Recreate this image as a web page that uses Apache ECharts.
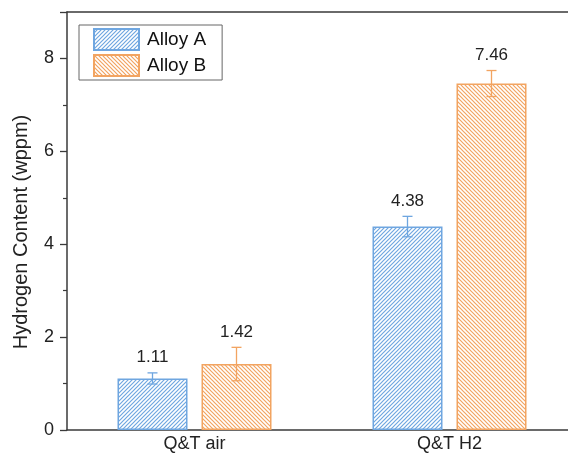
<!DOCTYPE html>
<html>
<head>
<meta charset="utf-8">
<script src="https://cdn.jsdelivr.net/npm/echarts@6/dist/echarts.min.js"></script>
<style>
  html, body { margin: 0; padding: 0; background: #fff; overflow: hidden; }
  #frame { width: 568px; height: 456px; overflow: hidden; position: relative; }
  #chart { width: 580px; height: 456px; position: absolute; left: 0; top: 0; }
</style>
</head>
<body>
<div id="frame"><div id="chart"></div></div>
<script>
// Treatment conditions on the x axis
const categories = ['Q&T air', 'Q&T H2'];
// Mean hydrogen content (wppm) and standard deviation for each alloy
const alloyA = [1.11, 4.38];
const alloyAErr = [0.12, 0.22];
const alloyB = [1.42, 7.46];
const alloyBErr = [0.36, 0.28];
const seriesNames = ['Alloy A', 'Alloy B'];

const FONT = 'Liberation Sans, Arial, Helvetica, sans-serif';
const BLUE = '#6fa6e0';
const ORANGE = '#f2a461';
const AXIS = '#3a3a3a';

// Diagonal hatch fill as a repeating canvas tile
function hatch(color, forward) {
  const s = 4;
  const c = document.createElement('canvas');
  c.width = s; c.height = s;
  const g = c.getContext('2d');
  g.fillStyle = '#ffffff';
  g.fillRect(0, 0, s, s);
  g.strokeStyle = color;
  g.lineWidth = 1.2;
  g.beginPath();
  if (forward) {
    g.moveTo(-1, s + 1); g.lineTo(s + 1, -1);
    g.moveTo(-1, 1); g.lineTo(1, -1);
    g.moveTo(s - 1, s + 1); g.lineTo(s + 1, s - 1);
  } else {
    g.moveTo(-1, -1); g.lineTo(s + 1, s + 1);
    g.moveTo(s - 1, -1); g.lineTo(s + 1, 1);
    g.moveTo(-1, s - 1); g.lineTo(1, s + 1);
  }
  g.stroke();
  return { image: c, repeat: 'repeat' };
}

const BAR_W = 70;
const BAR_GAP = 14;
const OFFSET = (BAR_W + BAR_GAP) / 2;

function errorSeries(values, errs, color, side) {
  return {
    type: 'custom',
    z: 5,
    data: values.map((v, i) => [i, v, errs[i]]),
    renderItem: function (params, api) {
      const i = api.value(0), v = api.value(1), e = api.value(2);
      const top = api.coord([i, v + e]);
      const bot = api.coord([i, v - e]);
      const x = top[0] + side * OFFSET;
      const cap = 5;
      return {
        type: 'group',
        children: [
          { type: 'line', shape: { x1: x, y1: top[1], x2: x, y2: bot[1] }, style: { stroke: color, lineWidth: 1.3 } },
          { type: 'line', shape: { x1: x - cap, y1: top[1], x2: x + cap, y2: top[1] }, style: { stroke: color, lineWidth: 1.3 } },
          { type: 'line', shape: { x1: x - cap, y1: bot[1], x2: x + cap, y2: bot[1] }, style: { stroke: color, lineWidth: 1.3 } },
          { type: 'text', x: x, y: top[1] - 7,
            style: { text: v.toFixed(2), fill: '#222', font: '17px ' + FONT, textAlign: 'center', textVerticalAlign: 'bottom' } }
        ]
      };
    }
  };
}

const chart = echarts.init(document.getElementById('chart'), null, { renderer: 'canvas' });
chart.setOption({
  backgroundColor: '#fff',
  animation: false,
  grid: { left: 67, right: 3, top: 12, bottom: 26 },
  legend: {
    data: seriesNames,
    orient: 'vertical',
    left: 79, top: 25,
    padding: [3, 16, 3, 14],
    icon: 'rect',
    itemWidth: 45, itemHeight: 21, itemGap: 3,
    borderColor: '#666', borderWidth: 1,
    textStyle: { fontSize: 19, fontFamily: FONT, color: '#111', padding: [0, 0, 0, 3] }
  },
  xAxis: [
    {
      type: 'category',
      data: categories,
      axisLine: { lineStyle: { color: AXIS, width: 1.5 } },
      axisTick: { show: false },
      axisLabel: { fontSize: 18, fontFamily: FONT, color: '#222', margin: 5 }
    },
    {
      // top frame line
      type: 'category',
      position: 'top',
      data: categories,
      axisLine: { lineStyle: { color: AXIS, width: 1.5 } },
      axisTick: { show: false },
      axisLabel: { show: false }
    }
  ],
  yAxis: {
    type: 'value',
    min: 0, max: 9, interval: 2,
    name: 'Hydrogen Content (wppm)',
    nameLocation: 'middle',
    nameGap: 36,
    nameTextStyle: { fontSize: 20, fontFamily: FONT, color: '#222', padding: [0, 22, 0, 0] },
    axisLine: { show: true, lineStyle: { color: AXIS, width: 1.5 } },
    axisTick: { show: true, inside: false, length: 7, lineStyle: { color: AXIS, width: 1.3 } },
    minorTick: { show: true, splitNumber: 2, length: 4, lineStyle: { color: AXIS, width: 1.2 } },
    splitLine: { show: false },
    axisLabel: {
      fontSize: 18, fontFamily: FONT, color: '#222', margin: 13,
      formatter: v => (v % 2 === 0 && v <= 8 ? String(v) : '')
    }
  },
  series: [
    {
      name: seriesNames[0], type: 'bar', data: alloyA,
      barWidth: BAR_W, barGap: (BAR_GAP / BAR_W * 100) + '%',
      itemStyle: { color: hatch(BLUE, true), borderColor: BLUE, borderWidth: 1.5 }
    },
    {
      name: seriesNames[1], type: 'bar', data: alloyB,
      barWidth: BAR_W,
      itemStyle: { color: hatch(ORANGE, false), borderColor: ORANGE, borderWidth: 1.5 }
    },
    errorSeries(alloyA, alloyAErr, BLUE, -1),
    errorSeries(alloyB, alloyBErr, ORANGE, 1)
  ]
});
</script>
</body>
</html>
